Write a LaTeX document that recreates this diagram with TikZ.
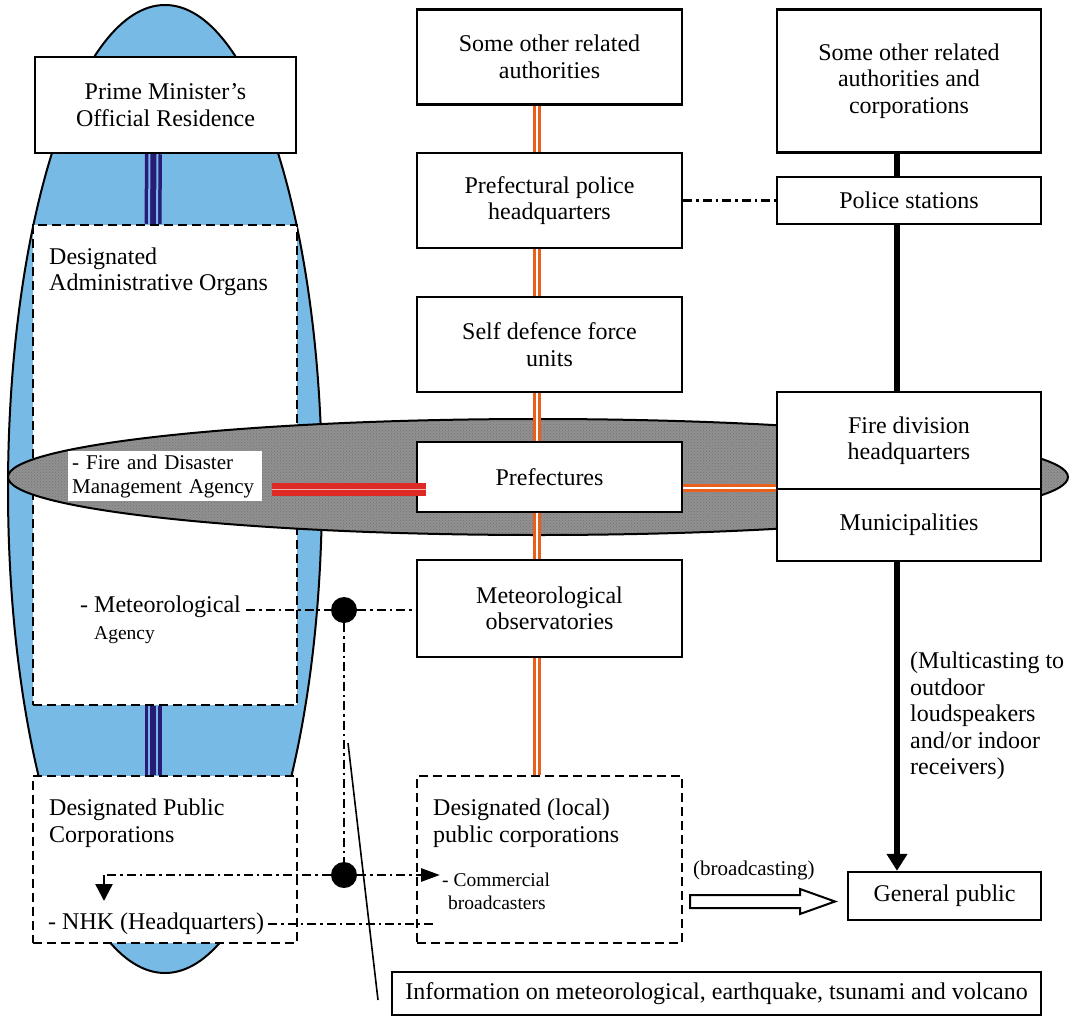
\documentclass[tikz,border=0pt]{standalone}
\usepackage{fontspec}
\setmainfont{Liberation Serif}
\usetikzlibrary{arrows.meta,calc,patterns}
\definecolor{skyb}{RGB}{120,186,230}
\definecolor{greyf}{RGB}{145,145,145}
\definecolor{orng}{RGB}{232,96,28}
\definecolor{redl}{RGB}{222,42,36}
\definecolor{navyl}{RGB}{40,28,120}
\newcommand\fmain{\fontsize{24}{26.5}\selectfont}
\newcommand\fmid{\fontsize{21}{24}\selectfont}
\newcommand\fsml{\fontsize{19.5}{23}\selectfont}
\begin{document}
\begin{tikzpicture}[x=1pt,y=-1pt,
  box/.style={draw, line width=2.4pt, fill=white, align=center, inner sep=0pt, font=\fmain},
  dbox/.style={box, dash pattern=on 9pt off 5pt},
  lbl/.style={align=left, inner sep=0pt, font=\fmain, anchor=west},
  dd/.style={line width=2.8pt, dash pattern=on 9pt off 4pt on 2.5pt off 4pt},
  oline/.style={draw=orng, line width=3pt, double=white, double distance=2pt},
  thickl/.style={line width=6.5pt},
  dot/.style={circle, fill=black, minimum size=26pt, inner sep=0pt}
]
\useasboundingbox (0,0) rectangle (1071,1017);

% blue ellipse
\draw[fill=skyb, line width=2pt] (165,489) ellipse [x radius=157pt, y radius=484pt];

% left column boxes
\node[dbox, minimum width=264pt, minimum height=480pt] (dao) at (165,465) {};
\node[dbox, minimum width=264pt, minimum height=167pt] (dpc) at (165,859.5) {};
\node[box, minimum width=261pt, minimum height=96pt] (pm) at (165.5,105) {Prime Minister's\\Official Residence};

% navy triple lines
\draw[navyl, line width=17pt] ([xshift=-12pt]pm.south) -- ([xshift=-12pt]dao.north);
\draw[skyb, line width=2pt] ([xshift=-16pt]pm.south) -- ([xshift=-16pt]dao.north);
\draw[skyb, line width=2pt] ([xshift=-8pt]pm.south) -- ([xshift=-8pt]dao.north);
\draw[navyl, line width=17pt] ([xshift=-12pt]dao.south) -- ([xshift=-12pt]dpc.north);
\draw[skyb, line width=2pt] ([xshift=-16pt]dao.south) -- ([xshift=-16pt]dpc.north);
\draw[skyb, line width=2pt] ([xshift=-8pt]dao.south) -- ([xshift=-8pt]dpc.north);

% gray ellipse
\fill[greyf] (538,477) ellipse [x radius=530pt, y radius=58pt];
\fill[pattern=crosshatch dots, pattern color=black!55] (538,477) ellipse [x radius=530pt, y radius=58pt];
\draw[line width=2pt] (538,477) ellipse [x radius=530pt, y radius=58pt];

% FDMA label box
\node[fill=white, anchor=west, align=left, text width=186pt, inner xsep=4pt, inner ysep=3pt, font=\fmid] (fdma) at (68,476) {- Fire and Disaster\\Management Agency};

% middle column
\node[box, minimum width=265pt, minimum height=95pt] (sora) at (549.5,57) {Some other related\\authorities};
\node[box, minimum width=265pt, minimum height=95pt] (pph) at (549.5,200.5) {Prefectural police\\headquarters};
\node[box, minimum width=265pt, minimum height=95pt] (sdf) at (549.5,344.5) {Self defence force\\units};
\node[box, minimum width=265pt, minimum height=70pt] (pref) at (549.5,477) {Prefectures};
\node[box, minimum width=265pt, minimum height=97pt] (metobs) at (549.5,608.5) {Meteorological\\observatories};
\node[dbox, minimum width=265pt, minimum height=167pt] (dlpc) at (549.5,859.5) {};

% right column
\node[box, minimum width=264pt, minimum height=143pt] (sorac) at (909,81) {Some other related\\authorities and\\corporations};
\node[box, minimum width=264pt, minimum height=47pt] (ps) at (909,200.5) {Police stations};
\node[box, minimum width=264pt, minimum height=97pt] (fdh) at (909,440.5) {Fire division\\headquarters};
\node[box, minimum width=264pt, minimum height=72pt] (mun) at (909,525) {Municipalities};
\node[box, minimum width=193pt, minimum height=48pt] (gp) at (944.5,896) {General public};
\node[box, minimum width=649pt, minimum height=43pt] (info) at (716.5,993.5) {Information on meteorological, earthquake, tsunami and volcano};

% labels
\node[lbl] (daol) at (49,272) {Designated\\Administrative Organs};
\node[lbl] (meta) at (80,620) {- Meteorological\\\hspace*{14pt}{\fsml Agency}};
\node[lbl] (dpcl) at (49,823) {Designated Public\\Corporations};
\node[lbl] (nhk) at (48,924) {- NHK (Headquarters)};
\node[lbl] (dlpcl) at (433,823) {Designated (local)\\public corporations};
\node[lbl, font=\fsml] (comm) at (442,891) {- Commercial\\\hspace*{6pt}broadcasters};
\node[lbl, font=\fmid] (bc) at (693,870) {(broadcasting)};
\node[lbl] (multi) at (910,716) {(Multicasting to\\outdoor\\loudspeakers\\and/or indoor\\receivers)};

% orange double lines
\draw[oline] ([xshift=-12.5pt]sora.south) -- ([xshift=-12.5pt]pph.north);
\draw[oline] ([xshift=-12.5pt]pph.south) -- ([xshift=-12.5pt]sdf.north);
\draw[oline] ([xshift=-12.5pt]sdf.south) -- ([xshift=-12.5pt]pref.north);
\draw[oline] ([xshift=-12.5pt]pref.south) -- ([xshift=-12.5pt]metobs.north);
\draw[oline] ([xshift=-12.5pt]metobs.south) -- ([xshift=-12.5pt]dlpc.north);
\draw[oline] ([shift={(0,11)}]pref.east) -- ([shift={(0,11)}]pref.east -| fdh.west);

% red line
\draw[draw=redl, line width=6pt, double=redl!35!white, double distance=1pt] ([shift={(10,13)}]fdma.east) -- ([shift={(10,13)}]fdma.east -| pref.west);

% thick black lines
\draw[thickl] ([xshift=-12pt]sorac.south) -- ([xshift=-12pt]ps.north);
\draw[thickl] ([xshift=-12pt]ps.south) -- ([xshift=-12pt]fdh.north);
\draw[thickl, -{Triangle[width=20pt, length=17pt]}] ([xshift=-12pt]mun.south) -- ([xshift=-12pt]mun.south |- gp.north);

% dash-dot connectors
\draw[dd] (pph.east) -- (ps.west);
\node[dot] (c1) at (344,610) {};
\node[dot] (c2) at (344,875) {};
\coordinate (ma) at (246,610);
\draw[dd] (ma) -- (c1.west);
\draw[dd] (c1.east) -- (c1 -| metobs.west);
\draw[dd] (c1.south) -- (c2.north);
\coordinate (dl) at (104,875);
\coordinate (dle) at (104,901);
\draw[dd] (c2.west) -- (dl);
\draw[line width=2.4pt, -{Triangle[width=17pt, length=17pt]}] (dl) -- (dle);
\coordinate (ca) at (440,875);
\draw[dd, -{Triangle[width=13pt, length=19pt]}] (c2.east) -- (ca);
\coordinate (ne) at (434,924);
\draw[dd] ([xshift=4pt]nhk.east) -- (ne);

% callout line
\coordinate (cl1) at (348,743);
\coordinate (cl2) at (378,1000);
\draw[line width=1.6pt] (cl1) -- (cl2);

% hollow broadcasting arrow
\draw[line width=2pt, fill=white] (690,895) -- (800,895) -- (800,889) -- (835,901.5) -- (800,914) -- (800,908) -- (690,908) -- cycle;
\end{tikzpicture}
\end{document}
